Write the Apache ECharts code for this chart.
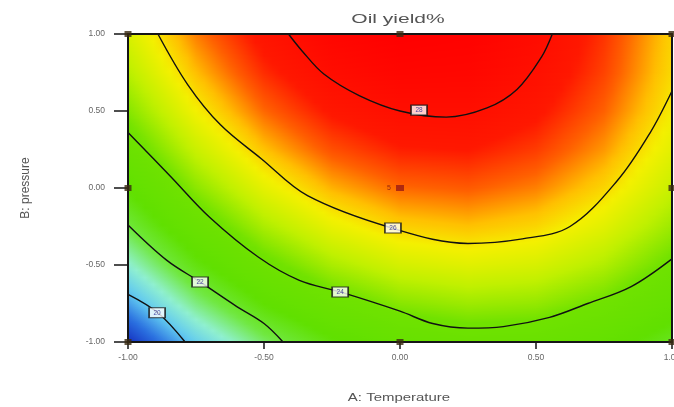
<!DOCTYPE html>
<html><head><meta charset="utf-8">
<script src="https://cdn.jsdelivr.net/npm/echarts@6/dist/echarts.min.js"></script>
<style>html,body{margin:0;padding:0;background:#fff}#c{width:674px;height:407px}</style>
</head><body><div id="c"></div>
<script>
// ---- data ----
const chartTitle = 'Oil yield%';
const xName = 'A: Temperature';
const yName = 'B: pressure';
// response grid (coded units), rows from B = 1 (top) to B = -1 (bottom)
const aVals = [-1, -0.75, -0.5, -0.25, 0, 0.25, 0.5, 0.75, 1];
const bVals = [1, 0.75, 0.5, 0.25, 0, -0.25, -0.5, -0.75, -1];
const yieldGrid = [
  [25.36, 26.74, 27.75, 28.40, 28.67, 28.59, 28.13, 27.31, 26.12],
  [24.89, 26.31, 27.37, 28.07, 28.39, 28.35, 27.95, 27.18, 26.04],
  [24.30, 25.78, 26.88, 27.62, 28.00, 28.01, 27.65, 26.93, 25.84],
  [23.60, 25.12, 26.28, 27.07, 27.49, 27.55, 27.24, 26.57, 25.52],
  [22.79, 24.36, 25.56, 26.40, 26.87, 26.98, 26.72, 26.09, 25.10],
  [21.86, 23.48, 24.73, 25.62, 26.14, 26.29, 26.08, 25.50, 24.56],
  [20.82, 22.49, 23.79, 24.72, 25.29, 25.49, 25.33, 24.80, 23.90],
  [19.66, 21.38, 22.73, 23.71, 24.33, 24.58, 24.47, 23.99, 23.14],
  [18.40, 20.16, 21.56, 22.59, 23.26, 23.56, 23.49, 23.06, 22.26]
];
// contour lines
const levels = [28, 26, 24, 22, 20];
const contour28 = [[-0.41,1],[-0.36,0.89],[-0.28,0.74],[-0.15,0.6],[0.0,0.5],[0.17,0.46],[0.32,0.52],[0.43,0.64],[0.52,0.85],[0.56,1]];
const contour26 = [[-0.89,1],[-0.78,0.67],[-0.66,0.41],[-0.51,0.19],[-0.34,-0.05],[-0.03,-0.26],[0.25,-0.36],[0.45,-0.33],[0.625,-0.25],[0.8,0.05],[0.92,0.36],[1,0.63]];
const contour24 = [[-1,0.36],[-0.846,0.08],[-0.70,-0.19],[-0.52,-0.45],[-0.37,-0.60],[-0.22,-0.675],[0,-0.8],[0.12,-0.88],[0.25,-0.91],[0.38,-0.90],[0.55,-0.84],[0.69,-0.75],[0.85,-0.64],[1,-0.46]];
const contour22 = [[-1,-0.24],[-0.857,-0.47],[-0.735,-0.61],[-0.6,-0.77],[-0.5,-0.88],[-0.43,-1]];
const contour20 = [[-1,-0.69],[-0.89,-0.81],[-0.79,-1]];
const contourLines = [contour28, contour26, contour24, contour22, contour20];
const labelPos = [[0.07,0.506],[-0.026,-0.26],[-0.22,-0.675],[-0.735,-0.61],[-0.893,-0.81]];
// design points
const designPts = [[-1,1],[0,1],[1,1],[-1,0],[1,0],[-1,-1],[0,-1],[1,-1]];
const centerPt = [0, 0];
const centerRuns = '5';

// ---- colour scale ----
const flat = yieldGrid.flat();
const vMin = Math.min(...flat), vMax = Math.max(...flat);
const cStops = [
  [0.00,[21,48,192]],[0.08,[42,112,224]],[0.16,[96,200,240]],[0.24,[144,240,208]],
  [0.33,[112,232,64]],[0.42,[96,224,0]],[0.55,[112,226,0]],[0.64,[192,240,0]],
  [0.72,[244,240,0]],[0.77,[255,192,0]],[0.83,[255,96,0]],[0.89,[255,24,0]],[1.00,[255,0,0]]
];
function cmap(v){
  let t=(v-vMin)/(vMax-vMin); t=Math.max(0,Math.min(1,t));
  for(let i=1;i<cStops.length;i++){
    if(t<=cStops[i][0]){
      const [t0,c0]=cStops[i-1],[t1,c1]=cStops[i];
      const f=(t-t0)/(t1-t0);
      return 'rgb('+c0.map((c,k)=>Math.round(c+(c1[k]-c)*f)).join(',')+')';
    }
  }
  return 'rgb(255,0,0)';
}

const chart = echarts.init(document.getElementById('c'), null, {renderer:'canvas'});
const nA = aVals.length, SUB = 8;
function renderBand(params, api){
  const j = api.value(0);
  const pTop = api.coord([aVals[0], bVals[j]]);
  const pBot = api.coord([aVals[nA-1], bVals[j+1]]);
  const xL = pTop[0], xR = pBot[0];
  const y0 = Math.round(pTop[1]), y1 = Math.round(pBot[1]);
  const children = [];
  for(let y=y0; y<y1; y++){
    const t = (y+0.5-pTop[1])/(pBot[1]-pTop[1]);
    const row = yieldGrid[j].map((v,i)=>v*(1-t)+yieldGrid[j+1][i]*t);
    const stops = [];
    for(let i=0;i<nA-1;i++){
      for(let k=0;k<SUB;k++){
        const f=k/SUB;
        stops.push({offset:(i+f)/(nA-1), color:cmap(row[i]*(1-f)+row[i+1]*f)});
      }
    }
    stops.push({offset:1, color:cmap(row[nA-1])});
    children.push({type:'rect', shape:{x:xL, y:y, width:xR-xL, height:1.05},
      style:{fill:new echarts.graphic.LinearGradient(0,0,1,0,stops)}});
  }
  return {type:'group', children};
}

const axisCommon = {
  type:'value', min:-1, max:1, interval:0.5, z:5,
  axisLine:{show:true, onZero:false, lineStyle:{color:'#151515', width:2}},
  splitLine:{show:false}
};
const series = [{
  type:'custom', renderItem:renderBand, silent:true, z:1,
  data: bVals.slice(0,-1).map((b,j)=>[j]), encode:{x:-1,y:-1}
}];
contourLines.forEach((pts)=>{
  series.push({type:'line', data:pts, smooth:0.35, showSymbol:false, silent:true, z:3,
    lineStyle:{color:'#111', width:1.4}});
});
series.push({type:'scatter', z:4, silent:true, symbol:'rect', symbolSize:[16,10],
  itemStyle:{color:'#fff', borderColor:'#111', borderWidth:1.4},
  label:{show:true, position:'inside', fontSize:6.5, color:'#1c1c8c', fontFamily:'Liberation Sans',
    formatter:p=>String(levels[p.dataIndex])},
  data: labelPos});
series.push({type:'scatter', z:6, silent:true, clip:false, symbol:'rect', symbolSize:[7,6],
  itemStyle:{color:'#3a2a12'}, data: designPts});
series.push({type:'scatter', z:6, silent:true, symbol:'rect', symbolSize:[8,6],
  itemStyle:{color:'#9a1a14'},
  label:{show:true, position:'left', distance:5, fontSize:7, color:'#7a1010', formatter:centerRuns},
  data:[centerPt]});

chart.setOption({
  animation:false,
  textStyle:{fontFamily:'Liberation Sans'},
  graphic:[
    {type:'text', x:398, y:20, scaleX:1.75, silent:true,
      style:{text:chartTitle, align:'center', verticalAlign:'middle', fontSize:12, fill:'#555', fontFamily:'Liberation Sans'}},
    {type:'text', x:399, y:398, scaleX:1.36, silent:true,
      style:{text:xName, align:'center', verticalAlign:'middle', fontSize:11, fill:'#555', fontFamily:'Liberation Sans'}}
  ],
  grid:{left:128, right:2, top:34, bottom:65, show:false, containLabel:false, outerBoundsMode:'none'},
  xAxis:[
    Object.assign({}, axisCommon, {position:'bottom',
      axisTick:{show:true, length:7, lineStyle:{color:'#151515', width:1.5}},
      axisLabel:{fontSize:8.5, color:'#666', margin:11, formatter:v=>v.toFixed(2), showMaxLabel:true, showMinLabel:true}}),
    Object.assign({}, axisCommon, {position:'top', axisTick:{show:false}, axisLabel:{show:false}})
  ],
  yAxis:[
    Object.assign({}, axisCommon, {position:'left', name:yName, nameLocation:'middle', nameGap:96, nameRotate:90,
      nameTextStyle:{fontSize:12, color:'#555'},
      axisTick:{show:true, length:14, lineStyle:{color:'#151515', width:1.5}},
      axisLabel:{fontSize:8.5, color:'#666', margin:23, formatter:v=>v.toFixed(2)}}),
    Object.assign({}, axisCommon, {position:'right', axisTick:{show:false}, axisLabel:{show:false}})
  ],
  series
});
</script></body></html>
